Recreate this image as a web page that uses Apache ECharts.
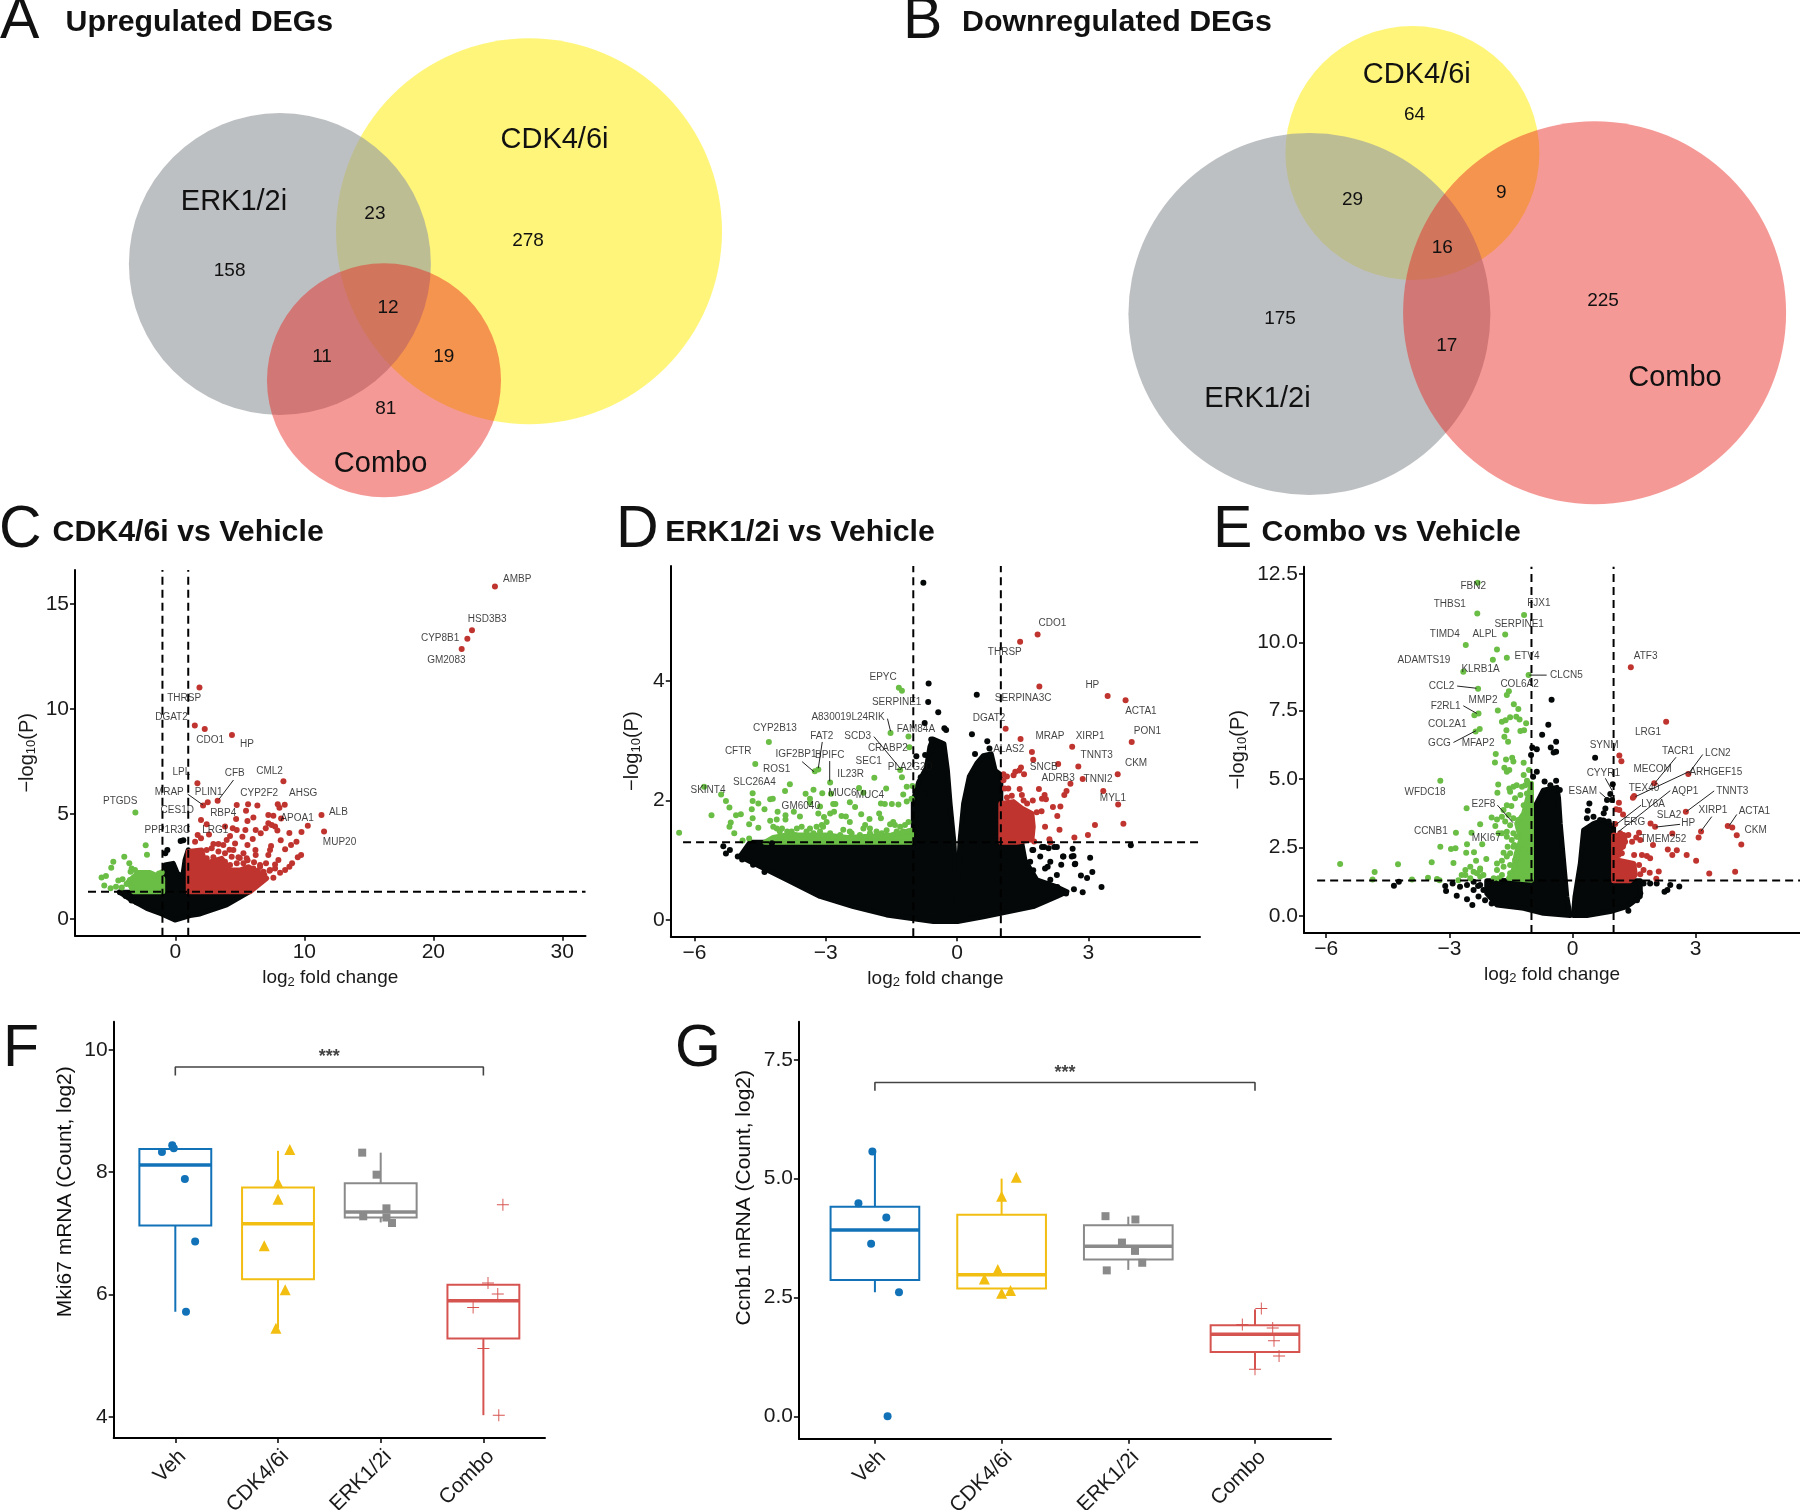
<!DOCTYPE html>
<html><head><meta charset="utf-8">
<style>html,body{margin:0;padding:0;background:#fff}#c{width:1800px;height:1510px}</style>
<script src="https://cdn.jsdelivr.net/npm/echarts@6/dist/echarts.min.js"></script>
</head><body><div id="c"></div>
<script>
// ---------- DATA ----------
const vennUpCounts = {erk:158, cdk:278, combo:81, erkCdk:23, all:12, erkCombo:11, cdkCombo:19};
const vennDownCounts = {erk:175, cdk:64, combo:225, erkCdk:29, all:16, erkCombo:17, cdkCombo:9};
const groupNames = ['Veh','CDK4/6i','ERK1/2i','Combo'];

// Panel C
const cRed = [[24.78,15.83],[23.0,13.75],[22.64,13.35],[22.2,12.86],[1.87,11.03],[1.51,9.22],[2.28,9.05],[4.39,8.76],[1.71,6.46],[8.38,6.56],[2.51,5.56],[2.15,5.41],[3.28,5.63],[4.76,5.43],[5.64,5.46],[6.36,5.4],[7.94,5.46],[8.48,5.44],[8.07,5.3],[11.33,4.95],[11.53,4.17],[10.27,4.44],[9.78,4.14],[8.84,4.1],[8.17,3.75],[9.39,3.68],[8.97,3.52],[8.51,3.32],[9.75,3.05],[9.49,2.94],[9.05,2.65],[8.84,2.49],[8.51,2.33],[8.12,2.2],[7.6,1.97],[7.21,4.95],[7.6,4.92],[8.2,4.79],[7.21,4.56],[7.47,4.48],[7.73,4.4],[7.91,4.21],[7.01,4.32],[6.62,4.08],[6.23,4.24],[6.05,4.83],[5.59,4.67],[5.48,5.16],[4.71,4.76],[1.99,4.71],[2.43,4.51],[2.61,4.02],[3.85,4.4],[4.45,4.32],[4.76,4.24],[5.43,4.24],[5.2,3.92],[6.0,3.81],[5.59,3.52],[6.21,3.29],[6.23,3.05],[7.42,3.48],[7.34,3.29],[7.21,3.05],[7.03,2.65],[7.99,2.81],[7.73,2.6],[6.57,2.57],[1.73,4.0],[1.99,3.84],[1.53,3.68],[4.24,3.95],[3.98,3.76],[3.72,3.52],[3.34,3.57],[2.95,3.57],[4.63,3.6],[4.5,3.29],[5.28,3.13],[5.6,2.8],[6.1,2.7],[6.4,2.3],[6.9,2.1],[7.3,2.3],[5.0,2.9],[4.2,3.3],[2.43,3.29],[2.82,3.37],[3.34,3.21],[3.85,3.13],[4.37,2.97],[4.89,2.94],[5.28,2.65],[4.76,2.65],[5.53,2.89],[6.05,2.41],[6.57,2.49],[6.83,2.25],[2.43,2.89],[2.95,2.94],[3.85,2.73],[4.24,2.57],[7.34,2.33],[7.73,2.41]];
const cGreen = [[-3.1,5.07],[-2.3,3.51],[-2.2,3.06],[-3.96,2.97],[-4.81,2.73],[-4.97,2.44],[-3.57,2.65],[-3.39,2.41],[-3.13,2.33],[-3.47,2.25],[-5.72,1.98],[-5.38,2.05],[-5.51,1.59],[-5.02,1.46],[-4.6,1.54],[-4.42,1.83],[-4.09,1.89],[-1.27,2.17],[-1.06,2.21],[-3.52,1.86],[-3.78,1.67],[-4.15,1.5]];
const cBlack = [[0.62,3.75],[0.41,3.71],[-0.62,3.29],[-0.78,3.13],[-3.85,1.1],[-4.3,1.28],[-3.4,0.88],[-3.0,0.8]];
const cBlackArea = [[-4.29,1.27],[-3.39,0.9],[-2.22,0.51],[-1.06,0.24],[-0.03,-0.05],[1.14,0.16],[1.91,0.24],[3.98,0.67],[5.66,1.27],[1,1.27],[1.0,3.3],[0.75,2.81],[0.57,2.02],[0.16,2.17],[-0.16,2.65],[-0.8,2.57],[-0.98,1.86],[-0.98,1.27]];
const cRedArea = [[1,1.3],[5.79,1.3],[7.09,1.94],[5.66,2.49],[5.02,2.33],[4.24,2.33],[3.6,2.89],[2.3,2.65],[2.04,3.29],[1,3.21]];
const cGreenArea = [[-3.26,1.3],[-0.98,1.3],[-0.98,1.94],[-1.97,2.21],[-2.87,2.21],[-3.65,1.78]];
const cLabels = [['AMBP',26.5,16.16],['HSD3B3',24.18,14.27],['CYP8B1',20.53,13.37],['GM2083',21.01,12.32],['THRSP',0.68,10.51],['DGAT2',-0.3,9.6],['CDO1',2.7,8.51],['HP',5.55,8.3],['LPL',0.47,6.97],['CFB',4.6,6.95],['CML2',7.3,7.05],['MRAP',-0.47,6.06],['PLIN1',2.58,6.06],['CYP2F2',6.5,5.98],['AHSG',9.91,5.97],['PTGDS',-4.27,5.59],['CES1D',0.15,5.16],['RBP4',3.71,5.02],['ALB',12.64,5.08],['APOA1',9.44,4.79],['PPP1R3C',-0.62,4.25],['LRG1',3.09,4.24],['MUP20',12.73,3.65]];
const cLinks = [[0.95,5.95,2.14,5.43],[4.51,6.62,3.38,5.7]];

// Panel D
const dRed = [[1.88,3.91],[3.44,3.75],[3.85,3.68],[1.11,3.2],[1.45,3.03],[1.71,2.81],[1.74,2.68],[3.99,2.98],[2.63,2.9],[2.31,2.61],[2.77,2.57],[3.67,2.44],[2.87,2.36],[2.59,2.28],[2.5,2.16],[2.45,2.09],[3.34,2.16],[3.68,1.93],[1.87,2.19],[2.0,2.09],[1.94,2.03],[2.03,2.02],[1.73,2.0],[2.19,1.89],[2.36,1.9],[1.93,1.82],[2.29,1.74],[2.01,1.56],[2.34,1.51],[3.15,1.59],[3.8,1.61],[2.99,1.42],[2.68,1.38],[2.11,1.35],[2.13,1.3],[1.76,1.31],[1.46,2.55],[1.42,2.5],[1.33,2.48],[1.53,2.44],[1.29,2.42],[1.14,2.4],[1.06,2.44],[1.06,2.34],[1.17,2.2],[1.09,2.2],[1.43,2.19],[1.48,2.09],[1.52,2.0],[1.82,1.8],[1.6,1.95],[1.14,2.05],[1.25,2.08],[1.84,4.78],[1.44,4.66]];
const dGreen = [[-6.35,1.46],[-5.78,2.23],[-5.39,2.10],[-5.28,1.99],[-5.2,1.88],[-5.61,1.75],[-5.05,1.75],[-4.94,1.77],[-5.17,1.63],[-5.2,1.56],[-5.09,1.45],[-4.9,1.33],[-4.75,1.36],[-4.61,2.61],[-4.3,2.98],[-4.67,2.12],[-4.67,1.99],[-4.54,1.95],[-4.69,1.85],[-4.4,1.85],[-4.27,2.02],[-4.21,2.03],[-3.93,2.16],[-3.82,2.27],[-4.1,1.81],[-4.67,1.7],[-4.75,1.6],[-4.54,1.54],[-4.27,1.66],[-4.12,1.68],[-3.92,1.75],[-3.92,1.68],[-3.73,1.81],[-3.59,1.73],[-3.46,2.11],[-3.28,2.18],[-3.36,2.03],[-3.36,1.96],[-3.08,2.12],[-3.25,2.49],[-3.17,2.52],[-2.9,2.3],[-2.88,2.11],[-2.83,1.94],[-2.78,1.94],[-2.9,1.78],[-2.81,1.81],[-3.17,1.78],[-3.13,1.9],[-3.04,1.72],[-2.64,1.74],[-2.54,1.73],[-2.45,1.64],[-2.45,1.97],[-2.33,1.89],[-2.19,1.77],[-2.24,2.21],[-2.14,2.13],[-1.89,2.38],[-1.62,2.2],[-1.74,1.95],[-1.65,1.94],[-1.78,1.78],[-1.74,1.7],[-2.0,1.69],[-1.49,1.94],[-1.34,1.93],[-1.23,2.1],[-1.15,1.98],[-1.04,2.03],[-1.15,2.23],[-1.02,2.24],[-1.26,2.39],[-1.3,2.51],[-1.52,3.13],[-1.11,3.07],[-1.09,2.89],[-1.33,3.89],[-1.26,3.84],[-4.12,1.53],[-4.0,1.53],[-3.88,1.48],[-3.78,1.48],[-3.66,1.53],[-3.55,1.56],[-3.44,1.48],[-3.21,1.56],[-3.09,1.59],[-2.98,1.64],[-2.6,1.51],[-2.41,1.45],[-2.1,1.59],[-1.99,1.53],[-1.84,1.48],[-1.53,1.6],[-1.42,1.59],[-1.3,1.56],[-1.19,1.59],[-1.11,1.64],[-1.46,1.64],[-4.2,1.56],[-4.05,1.48],[-3.82,1.45],[-3.7,1.42],[-3.36,1.53],[-3.28,1.45],[-3.13,1.48],[-2.9,1.45],[-2.83,1.39],[-2.67,1.42],[-2.45,1.48],[-2.22,1.42],[-1.99,1.45],[-1.72,1.45],[-1.61,1.5],[-1.38,1.48],[-1.23,1.48],[-1.11,1.48],[-1.07,1.39],[-2.14,1.53],[-3.06,1.56]];
const dBlack = [[-0.77,5.65],[-0.65,3.96],[-0.66,3.65],[-0.43,3.48],[-0.74,3.3],[-0.29,3.21],[-0.25,3.18],[-0.59,3.02],[0.45,3.77],[0.34,3.11],[0.69,2.99],[0.74,2.87],[0.41,2.78],[-0.93,2.74],[-0.73,2.76],[-0.83,2.39],[-0.68,2.4],[-0.74,2.12],[-0.55,2.84],[-0.38,2.96],[3.97,1.25],[3.3,0.55],[3.04,1.04],[3.09,0.8],[2.97,0.7],[2.83,0.74],[2.87,0.46],[2.67,0.51],[2.69,0.93],[2.62,1.06],[2.64,1.19],[2.42,1.06],[2.38,0.92],[2.22,1.22],[1.99,1.22],[2.07,0.89],[1.72,1.17],[2.29,0.55],[2.49,0.44],[-5.34,1.23],[-5.19,1.17],[-5.28,1.11],[-5.01,1.06],[-4.91,1.01],[-4.66,0.92],[-4.4,0.8],[-4.66,1.23],[-4.23,1.28],[1.74,1.17],[1.94,1.22],[2.09,1.2],[2.28,1.22],[1.9,1.06],[1.67,0.97],[2.13,0.97],[2.01,0.86],[2.43,1.06],[1.74,0.83],[2.28,0.75],[2.13,0.67],[2.7,0.94],[2.66,1.07]];
const dBlackLeft = [[-4.73,1.3],[-1,1.3],[-1,2.0],[-0.88,2.3],[-0.7,2.55],[-0.62,2.9],[-0.55,3.03],[-0.3,2.95],[-0.22,2.5],[-0.16,1.95],[-0.07,1.28],[-0.02,0.55],[-0.01,-0.03],[-0.54,-0.03],[-1.61,0.08],[-2.37,0.22],[-3.13,0.39],[-3.89,0.67],[-4.5,0.89],[-4.96,1.06]];
const dBlackRight = [[0.01,0.55],[0.07,1.34],[0.15,1.95],[0.28,2.4],[0.45,2.62],[0.6,2.75],[0.78,2.78],[0.87,2.5],[1,2.43],[1,1.3],[1.48,1.28],[1.55,1.0],[1.82,0.67],[2.28,0.55],[2.51,0.47],[2.28,0.39],[1.74,0.22],[0.6,0.05],[0.01,-0.03]];
const dRedArea = [[1,1.3],[1,1.95],[1.29,1.98],[1.48,1.87],[1.71,1.78],[1.74,1.56],[1.71,1.34],[1.36,1.3]];
const dGreenArea = [[-4.39,1.3],[-4.2,1.38],[-3.9,1.42],[-3.0,1.42],[-2.5,1.38],[-2,1.4],[-1.5,1.42],[-1.04,1.5],[-1.04,1.3]];
const dLabels = [['CDO1',2.18,4.97],['THRSP',1.09,4.48],['EPYC',-1.69,4.07],['HP',3.09,3.93],['SERPINA3C',1.51,3.72],['SERPINE1',-1.38,3.65],['ACTA1',4.2,3.49],['A830019L24RIK',-2.49,3.4],['DGAT2',0.73,3.38],['CYP2B13',-4.16,3.21],['FAM84A',-0.94,3.2],['PON1',4.35,3.16],['FAT2',-3.09,3.08],['SCD3',-2.27,3.08],['MRAP',2.12,3.07],['XIRP1',3.04,3.08],['CRABP2',-1.58,2.88],['ALAS2',1.18,2.86],['CFTR',-5.0,2.83],['IGF2BP1',-3.68,2.78],['BPIFC',-2.91,2.76],['TNNT3',3.19,2.76],['SEC1',-2.02,2.65],['CKM',4.09,2.63],['PLA2G2D',-1.07,2.56],['SNCB',1.98,2.55],['ROS1',-4.12,2.52],['IL23R',-2.43,2.44],['ADRB3',2.31,2.38],['TNNI2',3.22,2.35],['SLC26A4',-4.63,2.3],['SKINT4',-5.69,2.17],['MUC6',-2.62,2.12],['MUC4',-1.99,2.08],['MYL1',3.56,2.04],['GM6040',-3.57,1.9]];
const dLinks = [[-1.59,3.37,-1.52,3.16],[-1.9,3.07,-1.3,2.54],[-3.08,2.98,-3.17,2.54],[-3.54,2.65,-3.27,2.48],[-2.91,2.66,-2.91,2.32]];

// Panel E
const eRed = [[2.28,7.1],[1.42,9.09],[1.14,5.86],[1.19,5.65],[1.99,4.85],[2.82,5.19],[1.5,4.38],[1.47,4.32],[1.13,4.14],[1.06,3.9],[1.14,3.87],[1.23,3.71],[1.04,3.36],[2.76,3.81],[1.9,3.38],[2.01,3.26],[3.13,3.09],[3.07,2.87],[3.78,3.29],[3.89,3.23],[4.0,2.95],[4.11,2.61],[2.43,3.01],[1.62,3.04],[1.55,2.87],[1.65,2.78],[1.96,2.59],[2.32,2.43],[2.54,2.4],[2.43,2.23],[2.78,2.23],[3.01,2.02],[3.33,1.55],[3.96,1.62],[1.69,2.23],[1.5,2.23],[1.81,2.19],[1.89,2.11],[1.62,1.86],[1.73,1.68],[1.65,1.53],[1.88,1.58],[2.1,1.63],[2.04,1.36],[1.24,2.96],[1.36,2.96],[1.16,3.02],[1.45,2.71],[1.28,2.71],[1.16,2.47],[1.12,2.23],[1.2,2.29],[1.08,2.05]];
const eGreen = [[-2.31,12.17],[-2.32,11.05],[-1.18,11.0],[-1.64,10.28],[-2.6,9.9],[-1.84,9.74],[-1.6,9.43],[-1.94,9.36],[-2.66,8.92],[-1.07,8.8],[-2.3,8.3],[-1.55,8.21],[-1.6,8.07],[-1.43,7.74],[-1.32,7.56],[-1.82,7.51],[-2.29,7.4],[-2.39,7.33],[-1.52,7.26],[-1.63,7.15],[-1.72,7.1],[-1.37,7.28],[-1.29,7.18],[-1.13,7.04],[-2.26,6.83],[-2.36,6.74],[-1.61,6.79],[-1.66,6.55],[-1.57,6.37],[-1.27,6.76],[-1.18,6.79],[-1.87,5.92],[-1.89,5.61],[-1.62,5.72],[-1.47,5.78],[-1.44,5.64],[-1.19,5.6],[-1.06,5.33],[-1.66,5.42],[-1.6,5.27],[-1.54,5.33],[-1.19,5.15],[-1.11,4.94],[-1.81,4.8],[-1.83,4.5],[-1.54,4.66],[-1.44,4.72],[-1.36,4.78],[-1.23,4.72],[-1.15,4.78],[-1.07,4.85],[-3.22,4.94],[-2.58,3.94],[-1.52,4.54],[-1.4,4.3],[-1.27,4.42],[-1.11,4.48],[-1.19,4.05],[-1.07,3.93],[-1.6,4.05],[-1.49,4.02],[-1.68,3.87],[-1.97,3.6],[-1.84,3.53],[-2.25,3.35],[-1.88,3.29],[-1.64,3.45],[-1.52,3.32],[-2.84,3.04],[-2.46,3.04],[-2.57,2.62],[-2.2,2.62],[-3.22,2.53],[-2.96,2.45],[-2.85,2.48],[-2.59,2.31],[-2.4,2.33],[-3.43,1.96],[-4.25,1.89],[-5.66,1.9],[-2.9,1.94],[-2.35,2.02],[-2.1,2.08],[-4.82,1.61],[-4.87,1.33],[-3.91,1.33],[-3.52,1.4],[-3.3,1.35],[-3.24,1.31],[-1.68,2.31],[-1.58,2.53],[-1.42,2.59],[-1.32,2.9],[-1.8,3.02],[-1.6,3.08],[-1.44,3.02],[-1.84,1.92],[-1.72,2.02],[-1.52,1.86],[-1.84,1.68],[-2.25,1.74],[-2.49,1.8],[-2.61,1.68],[-2.7,1.5],[-2.78,1.31],[-2.33,1.56],[-2.25,1.44],[-1.92,1.38],[-1.8,1.38],[-1.19,2.41],[-1.36,2.17],[-1.27,1.92],[-1.72,3.63],[-1.56,3.69],[-1.44,3.57],[-1.32,3.51],[-1.72,3.02],[-1.6,2.9],[-1.48,2.78],[-1.36,2.9],[-1.44,2.53],[-1.52,2.29],[-1.4,2.05],[-1.6,2.17],[-1.68,1.8],[-1.52,1.56],[-1.72,1.5],[-2.17,1.5],[-2.41,1.62],[-2.61,1.5],[-2.49,1.38],[-2.25,1.68]];
const eBlack = [[-4.35,1.11],[-4.23,1.25],[-3.1,1.1],[-3.08,0.91],[-2.92,1.19],[-2.82,0.74],[-2.57,0.61],[-2.44,0.4],[-2.74,1.07],[-2.57,1.13],[-2.41,1.25],[-2.3,1.1],[-0.51,7.9],[-0.59,6.99],[-0.74,6.62],[-0.4,6.37],[-0.53,6.16],[-0.46,5.97],[-0.4,6.0],[-0.98,6.16],[-0.87,6.09],[-1.01,5.88],[-0.87,5.27],[-0.96,5.09],[-0.68,4.91],[-0.4,4.94],[-0.54,4.78],[-0.31,4.6],[0.55,5.78],[0.98,4.81],[0.92,4.46],[0.84,4.24],[0.96,4.24],[0.41,4.11],[0.37,3.85],[0.8,3.93],[0.76,3.75],[0.35,3.57],[0.51,3.63],[0.67,3.51],[0.88,3.45],[2.6,1.08],[2.38,1.13],[2.31,0.95],[2.24,0.89],[2.05,1.19],[1.89,1.19],[1.73,1.19],[1.65,0.83],[1.57,0.58],[1.36,0.19],[1.42,0.49],[1.08,0.28],[-2.41,0.95],[-2.25,1.13],[-2.17,0.95],[-2.29,0.71],[-2.13,0.58],[-1.97,0.46]];
const eBlackLeft = [[-2.09,1.29],[-1,1.31],[-1,3.75],[-0.71,4.6],[-0.38,4.7],[-0.34,4.3],[-0.3,3.38],[-0.14,0.71],[-0.06,0.02],[-0.71,0.1],[-1.19,0.28],[-1.84,0.4],[-2.09,0.83]];
const eBlackRight = [[0.02,0.02],[0.06,0.71],[0.19,1.92],[0.27,3.14],[0.51,3.38],[0.76,3.51],[1,3.26],[1,1.29],[1.65,1.29],[1.65,0.71],[1.32,0.34],[0.92,0.16],[0.35,0.02]];
const eRedArea = [[1,2.96],[1.28,2.9],[1.24,2.53],[1.04,2.35],[1.08,2.05],[1.49,1.92],[1.53,1.5],[1.4,1.29],[1,1.29]];
const eGreenArea = [[-1,4.85],[-1.19,3.75],[-1.36,3.38],[-1.26,2.78],[-1.37,2.29],[-1.44,1.68],[-1.56,1.38],[-1,1.31]];
const eLabels = [['FBN2',-2.42,12.05],['THBS1',-2.99,11.38],['FJX1',-0.82,11.41],['SERPINE1',-1.3,10.65],['TIMD4',-3.11,10.29],['ALPL',-2.14,10.29],['ETV4',-1.11,9.5],['ATF3',1.78,9.5],['ADAMTS19',-3.62,9.33],['KLRB1A',-2.24,9.03],['CLCN5',-0.15,8.8],['COL6A2',-1.29,8.47],['CCL2',-3.19,8.38],['MMP2',-2.18,7.9],['F2RL1',-3.09,7.68],['COL2A1',-3.05,7.0],['LRG1',1.84,6.7],['GCG',-3.24,6.31],['MFAP2',-2.3,6.31],['SYNM',0.77,6.25],['TACR1',2.57,6.01],['LCN2',3.54,5.95],['MECOM',1.95,5.36],['ARHGEF15',3.49,5.26],['CYYR1',0.75,5.23],['TEX40',1.74,4.67],['ESAM',0.25,4.54],['WFDC18',-3.59,4.53],['AQP1',2.74,4.57],['TNNT3',3.89,4.57],['E2F8',-2.17,4.1],['LY6A',1.96,4.09],['XIRP1',3.42,3.87],['ACTA1',4.43,3.81],['SLA2',2.35,3.68],['ERG',1.51,3.43],['HP',2.82,3.38],['CCNB1',-3.45,3.09],['CKM',4.46,3.12],['MKI67',-2.1,2.84],['TMEM252',2.21,2.79]];
const eLinks = [[2.52,5.8,2.01,4.87],[3.17,5.9,2.83,5.21],[2.83,5.27,1.53,4.36],[0.8,5.03,0.98,4.54],[0.66,4.52,0.92,4.18],[2.38,4.58,1.12,3.08],[1.67,4.05,1.04,3.32],[3.45,4.57,2.77,3.81],[3.39,3.63,3.13,3.1],[4.0,3.71,3.82,3.31],[2.62,3.35,2.03,3.25],[-2.66,7.68,-2.33,7.4],[-2.9,6.34,-2.35,6.77],[-1.83,4.05,-1.45,3.41],[-2.81,8.4,-2.34,8.32],[-1.05,8.8,-0.63,8.8]];

// Panel F: [min, Q1, median, Q3, max]
const fStats = [[5.72,7.13,8.12,8.38,8.38],[5.45,6.25,7.16,7.75,8.35],[7.18,7.26,7.35,7.82,8.32],[4.03,5.285,5.90,6.16,6.16]];
const fVeh = [[0.87,8.33],[0.97,8.44],[0.985,8.39],[1.093,7.89],[1.193,6.87],[1.104,5.72]];
const fCdk = [[2.115,8.37],[2,7.83],[2,7.56],[1.866,6.80],[2.07,6.08],[1.98,5.45]];
const fErk = [[2.82,8.32],[2.96,7.96],[3.056,7.41],[2.83,7.28],[3.056,7.26],[3.11,7.17]];
const fCombo = [[4.19,7.47],[4.045,6.19],[4.14,6.01],[3.9,5.79],[4,5.12],[4.15,4.03]];
// Panel G
const gStats = [[2.61,2.87,3.92,4.41,5.57],[2.69,2.69,2.98,4.24,5.0],[3.08,3.30,3.58,4.02,4.2],[0.99,1.354,1.726,1.915,2.25]];
const gVeh = [[0.98,5.57],[0.87,4.48],[1.09,4.18],[0.97,3.63],[1.19,2.61],[1.10,0.0]];
const gCdk = [[2.116,5.03],[2,4.63],[1.97,3.09],[1.864,2.89],[2.07,2.645],[2,2.59]];
const gErk = [[2.82,4.21],[3.056,4.14],[2.95,3.655],[3.053,3.48],[3.11,3.23],[2.83,3.07]];
const gCombo = [[4.05,2.27],[3.9,1.93],[4.14,1.86],[4.15,1.59],[4.19,1.27],[4,0.99]];

// ---------- LAYOUT / STYLE ----------
const FONT = '"Liberation Sans"';
const RED = '#C0342F', GREEN = '#6ABD45', BLACK = '#050808';
const vennStyle = ['rgba(255,236,10,0.54)','rgba(155,160,163,0.66)','rgba(233,33,27,0.46)'];
const vennShapes = [[529,231.3,193],[279.9,264,151],[384,380.3,117],[1412.4,153,127],[1309.4,314,181],[1594.6,312.7,191.5]];
const grids = [], xAxes = [], yAxes = [], series = [], graphics = [];

function txt(text,x,y,font,opt){
  const el = {type:'text',x:x,y:y,z:100,silent:true,rotation:(opt&&opt.rotation)||0,
    style:{text:String(text),font:font,fill:'#111',align:(opt&&opt.align)||'center',verticalAlign:'middle'}};
  graphics.push(el);
}
function addGrid(l,t,r,b,x,y){
  grids.push({left:l,top:t,width:r-l,height:b-t,containLabel:false,outerBoundsMode:'none'});
  xAxes.push(Object.assign({gridIndex:grids.length-1,type:'value',splitLine:{show:false},
    axisLine:{onZero:false,lineStyle:{color:'#000',width:2}},axisTick:{length:5,lineStyle:{color:'#000',width:1.5}}},x));
  yAxes.push(Object.assign({gridIndex:grids.length-1,type:'value',splitLine:{show:false},
    axisLine:{onZero:false,lineStyle:{color:'#000',width:2}},axisTick:{length:5,lineStyle:{color:'#000',width:1.5}}},y));
  return grids.length-1;
}
const minus = s => String(s).replace('-','\u2212');
const tickLabel = (vals,fmt,extra) => Object.assign({customValues:vals,margin:6,color:'#1a1a1a',fontFamily:FONT,fontSize:21,formatter:fmt||(v=>minus(v))},extra||{});

function area(g,pts,color){
  series.push({type:'custom',xAxisIndex:g,yAxisIndex:g,data:pts,encode:{x:0,y:1},silent:true,clip:true,
    renderItem:(p,api)=>{ if(p.dataIndex!==0) return null;
      return {type:'polygon',shape:{points:pts.map(q=>api.coord(q))},
        style:{fill:color,stroke:color,lineWidth:5,lineJoin:'round'}}; }});
}
function dots(g,pts,color,size,symbol){
  series.push({type:'scatter',xAxisIndex:g,yAxisIndex:g,data:pts,symbol:symbol||'circle',symbolSize:size||6,silent:true,
    itemStyle:{color:color,opacity:1}});
}
function dashed(g,pts){
  series.push({type:'line',xAxisIndex:g,yAxisIndex:g,data:pts,showSymbol:false,silent:true,z:5,
    lineStyle:{color:'#000',width:2,type:[8,5]}});
}
function segs(g,rows,color,w){
  series.push({type:'custom',xAxisIndex:g,yAxisIndex:g,data:rows,encode:{x:[0,2],y:[1,3]},silent:true,z:6,
    renderItem:(p,api)=>{ const a=api.coord([api.value(0),api.value(1)]),b=api.coord([api.value(2),api.value(3)]);
      return {type:'line',shape:{x1:a[0],y1:a[1],x2:b[0],y2:b[1]},style:{stroke:color||'#222',lineWidth:w||1}}; }});
}
function labels(g,rows,size,weight){
  series.push({type:'scatter',xAxisIndex:g,yAxisIndex:g,silent:true,z:7,symbolSize:1,
    itemStyle:{color:'transparent'},
    data:rows.map(r=>({name:r[0],value:[r[1],r[2]]})),
    label:{show:true,position:'inside',formatter:'{b}',color:'#111',fontFamily:FONT,fontSize:size||10,fontWeight:weight||'normal'},
    labelLayout:{hideOverlap:false}});
}
const axisName = {
  x:{name:'{a|log}{b|2}{a| fold change}',nameLocation:'middle',nameTextStyle:{rich:{a:{fontSize:19,fontFamily:FONT,color:'#1a1a1a'},b:{fontSize:13,fontFamily:FONT,color:'#1a1a1a',verticalAlign:'bottom',padding:[8,0,0,0]}}}},
  y:{name:'{a|\u2212log}{b|10}{a|(P)}',nameLocation:'middle',nameTextStyle:{rich:{a:{fontSize:20,fontFamily:FONT,color:'#1a1a1a'},b:{fontSize:13,fontFamily:FONT,color:'#1a1a1a',verticalAlign:'bottom',padding:[8,0,0,0]}}}}
};

function volcano(p){
  const g = addGrid(p.box[0],p.box[1],p.box[2],p.box[3],
    Object.assign({min:p.x[0],max:p.x[1],axisLabel:tickLabel(p.xt),axisTick:{customValues:p.xt,length:5,lineStyle:{color:'#000',width:1.5}},nameGap:p.xGap},axisName.x),
    Object.assign({min:p.y[0],max:p.y[1],axisLabel:tickLabel(p.yt,p.yf),axisTick:{customValues:p.yt,length:5,lineStyle:{color:'#000',width:1.5}},nameGap:p.yGap},axisName.y));
  p.areas.forEach(a=>area(g,a[0],a[1]));
  dots(g,p.black,BLACK); dots(g,p.green,GREEN); dots(g,p.red,RED);
  dashed(g,[[p.hStart,1.3],[p.x[1],1.3]]);
  dashed(g,[[-1,p.y[0]],[-1,p.y[1]]]);
  dashed(g,[[1,p.y[0]],[1,p.y[1]]]);
  segs(g,p.links); labels(g,p.labels);
}
function boxes(p){
  const g = addGrid(p.box[0],p.box[1],p.box[2],p.box[3],
    {min:0.4,max:4.6,axisLabel:tickLabel([1,2,3,4],v=>groupNames[v-1],{rotate:45,fontSize:21,margin:8,verticalAlign:'top'}),axisTick:{customValues:[1,2,3,4],length:5,lineStyle:{color:'#000',width:1.5}}},
    {min:p.y[0],max:p.y[1],axisLabel:tickLabel(p.yt,p.yf),axisTick:{customValues:p.yt,length:5,lineStyle:{color:'#000',width:1.5}}});
  const cols=['#1272B8','#F2BE12','#8A8A8A','#D65450'];
  p.stats.forEach((s,i)=>{
    series.push({type:'custom',xAxisIndex:g,yAxisIndex:g,silent:true,data:[[i+1].concat(s)],encode:{x:0,y:[1,2,3,4,5]},
      renderItem:(pp,api)=>{
        const x=api.value(0),lo=api.value(1),q1=api.value(2),md=api.value(3),q3=api.value(4),hi=api.value(5);
        const c=(a,b)=>api.coord([a,b]);
        const tl=c(x-0.35,q3),br=c(x+0.35,q1),ml=c(x-0.35,md),mr=c(x+0.35,md),h=c(x,hi),t=c(x,q3),b=c(x,q1),l=c(x,lo);
        const st={stroke:cols[i],lineWidth:2,fill:'none'};
        return {type:'group',children:[
          {type:'rect',shape:{x:tl[0],y:tl[1],width:br[0]-tl[0],height:br[1]-tl[1]},style:st},
          {type:'line',shape:{x1:ml[0],y1:ml[1],x2:mr[0],y2:mr[1]},style:{stroke:cols[i],lineWidth:3.5}},
          {type:'line',shape:{x1:h[0],y1:h[1],x2:t[0],y2:t[1]},style:{stroke:cols[i],lineWidth:2}},
          {type:'line',shape:{x1:b[0],y1:b[1],x2:l[0],y2:l[1]},style:{stroke:cols[i],lineWidth:2}}
        ]};
      }});
  });
  const syms=[['circle',8],['triangle',11],['rect',8],['path://M4.6,0h0.8v4.6h4.6v0.8h-4.6v4.6h-0.8v-4.6H0v-0.8h4.6z',12]];
  p.points.forEach((pts,i)=>dots(g,pts,cols[i],syms[i][1],syms[i][0]));
  const br=p.bracket;
  series.push({type:'line',xAxisIndex:g,yAxisIndex:g,silent:true,showSymbol:false,data:[[1,br[1]],[1,br[0]],[4,br[0]],[4,br[1]]],lineStyle:{color:'#444',width:1.6}});
  labels(g,[['***',2.5,br[2]]],18,'bold');
}

// ---------- VENN ----------
const vg = addGrid(0,0,1800,1510,{show:false,min:0,max:1800},{show:false,min:0,max:1510,inverse:true});
series.push({type:'custom',xAxisIndex:vg,yAxisIndex:vg,silent:true,data:vennShapes,encode:{x:0,y:1},
  renderItem:(p,api)=>{const c=api.coord([api.value(0),api.value(1)]);
    return {type:'circle',shape:{cx:c[0],cy:c[1],r:api.value(2)},style:{fill:vennStyle[p.dataIndex%3]}};}});
const F_SET='29px '+FONT, F_NUM='19px '+FONT;
txt('CDK4/6i',554.5,139.7,F_SET);txt('ERK1/2i',234,202,F_SET);txt('Combo',380.6,463.7,F_SET);
txt(vennUpCounts.erk,229.6,271,F_NUM);txt(vennUpCounts.erkCdk,374.9,213.3,F_NUM);txt(vennUpCounts.cdk,528,241,F_NUM);
txt(vennUpCounts.all,388,308,F_NUM);txt(vennUpCounts.erkCombo,322,356.3,F_NUM);txt(vennUpCounts.cdkCombo,443.7,356.3,F_NUM);txt(vennUpCounts.combo,385.8,408.3,F_NUM);
txt('CDK4/6i',1416.8,74.7,F_SET);txt('ERK1/2i',1257.4,398.7,F_SET);txt('Combo',1675,377.7,F_SET);
txt(vennDownCounts.cdk,1414.6,115,F_NUM);txt(vennDownCounts.erkCdk,1352.5,199.7,F_NUM);txt(vennDownCounts.cdkCombo,1501.3,193,F_NUM);
txt(vennDownCounts.all,1442.3,247.7,F_NUM);txt(vennDownCounts.combo,1603,301,F_NUM);txt(vennDownCounts.erk,1280,318.3,F_NUM);txt(vennDownCounts.erkCombo,1446.7,345.7,F_NUM);

// ---------- TITLES ----------
const F_T='bold 30.3px '+FONT, F_L='59px '+FONT;
[['Upregulated DEGs',65.5,22.7],['Downregulated DEGs',962,22.7],['CDK4/6i vs Vehicle',52.6,532.7],['ERK1/2i vs Vehicle',665.3,532.7],['Combo vs Vehicle',1261.5,532.7]]
  .forEach(t=>txt(t[0],t[1],t[2],F_T,{align:'left'}));
[['A',0,22],['B',903,22],['C',-1,531],['D',616,531],['E',1213,531],['F',3,1050],['G',675,1050]]
  .forEach(t=>txt(t[0],t[1],t[2],F_L,{align:'left'}));
txt('Mki67 mRNA (Count, log2)',65,1191.7,'21px '+FONT,{rotation:Math.PI/2});
txt('Ccnb1 mRNA (Count, log2)',744,1197.8,'21px '+FONT,{rotation:Math.PI/2});

// ---------- PANELS ----------
volcano({box:[75,570,585.5,935.7],x:[-7.78,31.8],y:[-0.795,16.62],xt:[0,10,20,30],yt:[0,5,10,15],hStart:-6.77,xGap:32,yGap:37,
  areas:[[cBlackArea,BLACK],[cRedArea,RED],[cGreenArea,GREEN]],black:cBlack,green:cGreen,red:cRed,labels:cLabels,links:cLinks});
volcano({box:[670.8,566,1200,936.3],x:[-6.54,5.55],y:[-0.278,5.93],xt:[-6,-3,0,3],yt:[0,2,4],hStart:-6.26,xGap:32,yGap:28,
  areas:[[dBlackLeft,BLACK],[dBlackRight,BLACK],[dRedArea,RED],[dGreenArea,GREEN]],black:dBlack,green:dGreen,red:dRed,labels:dLabels,links:dLinks});
volcano({box:[1304,566.7,1800,933],x:[-6.54,5.54],y:[-0.62,12.76],xt:[-6,-3,0,3],yt:[0,2.5,5,7.5,10,12.5],yf:v=>v.toFixed(1),hStart:-6.22,xGap:31,yGap:55,
  areas:[[eBlackLeft,BLACK],[eBlackRight,BLACK],[eRedArea,RED],[eGreenArea,GREEN]],black:eBlack,green:eGreen,red:eRed,labels:eLabels,links:eLinks});
boxes({box:[113.7,1021.7,545,1438],y:[3.657,10.46],yt:[4,6,8,10],stats:fStats,points:[fVeh,fCdk,fErk,fCombo],bracket:[9.72,9.58,9.89]});
boxes({box:[798.9,1021.7,1331,1438.7],y:[-0.47,8.3],yt:[0,2.5,5,7.5],yf:v=>v.toFixed(1),stats:gStats,points:[gVeh,gCdk,gErk,gCombo],bracket:[7.02,6.85,7.23]});

const chart = echarts.init(document.getElementById('c'),null,{width:1800,height:1510});
chart.setOption({animation:false,backgroundColor:'#fff',textStyle:{fontFamily:FONT},grid:grids,xAxis:xAxes,yAxis:yAxes,series:series,graphic:graphics});
</script></body></html>
